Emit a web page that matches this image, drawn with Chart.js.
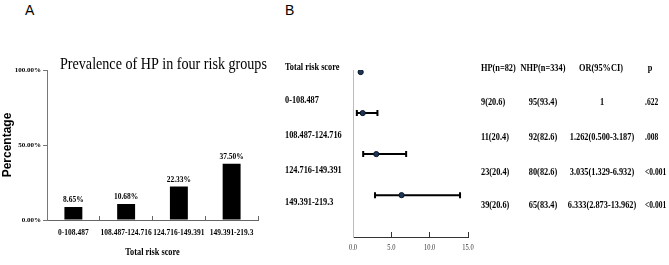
<!DOCTYPE html>
<html>
<head>
<meta charset="utf-8">
<script src="https://cdn.jsdelivr.net/npm/chart.js@4"></script>
<style>
  html, body { margin: 0; padding: 0; background: #fff; }
  #wrap { position: relative; width: 669px; height: 265px; overflow: hidden; }
  canvas { position: absolute; top: 0; }
  .panel { position: absolute; font-family: "Liberation Sans", Arial, sans-serif; font-size: 14px; line-height: 1; color: #000; }
</style>
</head>
<body>
<div id="wrap">
  <div class="panel" style="left:25px;top:3px">A</div>
  <div class="panel" style="left:285px;top:3px">B</div>
  <canvas id="barChart" width="270" height="265" style="left:0;width:270px;height:265px"></canvas>
  <canvas id="forestChart" width="399" height="265" style="left:270px;width:399px;height:265px"></canvas>
</div>
<script>
// ---- panel A data ----
const groups = ["0-108.487", "108.487-124.716", "124.716-149.391", "149.391-219.3"];
const prevalence = [8.65, 10.68, 22.33, 37.50];
const percentTicks = [0, 50, 100];

// ---- panel B data ----
const forestRows = ["Total risk score", "0-108.487", "108.487-124.716", "124.716-149.391", "149.391-219.3"];
const orPoint = [1, 1.262, 3.035, 6.333];
const ciLow = [null, 0.500, 1.329, 2.873];
const ciHigh = [null, 3.187, 6.932, 13.962];
const forestTicks = [0, 5, 10, 15];

const tableHead = ["HP(n=82)", "NHP(n=334)", "OR(95%CI)", "p"];
const hpCol = ["9(20.6)", "11(20.4)", "23(20.4)", "39(20.6)"];
const nhpCol = ["95(93.4)", "92(82.6)", "80(82.6)", "65(83.4)"];
const orCol = ["1", "1.262(0.500-3.187)", "3.035(1.329-6.932)", "6.333(2.873-13.962)"];
const pCol = [".622", ".008", "<0.001", "<0.001"];

const serif = "'Liberation Serif', 'Times New Roman', serif";
const squeeze = 0.83;

// squeezed serif text, like the narrow print of the figure
function say(ctx, text, x, y, font, align, color, sq) {
    ctx.save();
    ctx.font = font;
    ctx.fillStyle = color || "#000";
    ctx.textAlign = align || "left";
    ctx.textBaseline = "middle";
    ctx.translate(x, y);
    ctx.scale(sq || squeeze, 1);
    ctx.fillText(text, 0, 0);
    ctx.restore();
}

// =========================
// BAR CHART (A)
// =========================
const barText = {
    id: "barText",
    afterDraw: function (chart) {
        const ctx = chart.ctx;
        const meta = chart.getDatasetMeta(0);
        const xs = chart.scales.x;
        say(ctx, "Prevalence of HP in four risk groups", 60, 65, "17px " + serif);
        meta.data.forEach(function (bar, i) {
            say(ctx, prevalence[i].toFixed(2) + "%", bar.x, bar.y - 7, "bold 9px " + serif, "center");
            say(ctx, groups[i], xs.getPixelForValue(i), 233, "bold 9px " + serif, "center");
        });
        say(ctx, "Total risk score", (xs.left + xs.right) / 2, 252, "bold 10px " + serif, "center");
    }
};

new Chart(document.getElementById("barChart"), {
    type: "bar",
    data: {
        labels: groups,
        datasets: [{
            data: prevalence,
            backgroundColor: "#000",
            barPercentage: 0.68,
            categoryPercentage: 0.5
        }]
    },
    options: {
        responsive: false,
        animation: false,
        layout: { padding: { left: 0, right: 12, top: 70, bottom: 0 } },
        plugins: { legend: { display: false }, tooltip: { enabled: false } },
        scales: {
            x: {
                offset: true,
                // tick marks point up into the plot
                grid: { offset: true, drawOnChartArea: false, drawTicks: true, tickLength: -4, color: "#666" },
                border: { color: "#666", width: 1 },
                ticks: { color: "rgba(0,0,0,0)", font: { family: serif, size: 8 }, maxRotation: 0, autoSkip: false },
                afterFit: function (s) { s.height = 45; }
            },
            y: {
                min: 0,
                max: 100,
                afterBuildTicks: function (s) { s.ticks = percentTicks.map(function (v) { return { value: v }; }); },
                grid: { drawOnChartArea: false, drawTicks: true, tickLength: 4, color: "#777" },
                border: { color: "#777", width: 1 },
                ticks: {
                    color: "#000",
                    font: { family: serif, size: 7, weight: "bold" },
                    padding: 2,
                    callback: function (v) { return v.toFixed(2) + "%"; }
                },
                title: { display: true, text: "Percentage", color: "#000", font: { family: "'Liberation Sans', Arial, sans-serif", size: 12, weight: "bold" }, padding: 0 },
                afterFit: function (s) { s.width = 47; }
            }
        }
    },
    plugins: [barText]
});

// =========================
// FOREST PLOT (B)
// =========================
const errorBars = {
    id: "errorBars",
    beforeDatasetsDraw: function (chart) {
        const ctx = chart.ctx;
        const xs = chart.scales.x, ys = chart.scales.y;
        ctx.save();
        ctx.strokeStyle = "#000";
        ctx.lineWidth = 2;
        orPoint.forEach(function (v, i) {
            if (ciLow[i] === null) return;
            const y = ys.getPixelForValue(i);
            const x1 = xs.getPixelForValue(ciLow[i]);
            const x2 = xs.getPixelForValue(ciHigh[i]);
            ctx.beginPath();
            ctx.moveTo(x1, y); ctx.lineTo(x2, y);
            ctx.moveTo(x1, y - 3); ctx.lineTo(x1, y + 3);
            ctx.moveTo(x2, y - 3); ctx.lineTo(x2, y + 3);
            ctx.stroke();
        });
        ctx.restore();
    }
};

// row labels on the left, table on the right (canvas x = page x - 270)
const forestText = {
    id: "forestText",
    afterDraw: function (chart) {
        const ctx = chart.ctx;
        const xs = chart.scales.x;
        const f = "bold 10px " + serif;
        const rowLabelY = [67, 100, 135, 170, 202];
        forestRows.forEach(function (r, i) { say(ctx, r, 15, rowLabelY[i], f); });

        forestTicks.forEach(function (t) {
            say(ctx, t.toFixed(1), xs.getPixelForValue(t), 248, "9px " + serif, "center", "#333", 0.72);
        });

        const headY = 68;
        const tableY = [102, 137, 172, 205];
        say(ctx, tableHead[0], 211, headY, f);
        say(ctx, tableHead[1], 273, headY, f, "center");
        say(ctx, tableHead[2], 331, headY, f, "center");
        say(ctx, tableHead[3], 380, headY, f, "center");
        tableY.forEach(function (y, i) {
            say(ctx, hpCol[i], 211, y, f);
            say(ctx, nhpCol[i], 273, y, f, "center");
            say(ctx, orCol[i], 332, y, f, "center");
            say(ctx, pCol[i], 375, y, f, "left", "#000", 0.75);
        });
    }
};

new Chart(document.getElementById("forestChart"), {
    type: "scatter",
    data: {
        datasets: [{
            data: orPoint.map(function (v, i) { return { x: v, y: i }; }),
            pointRadius: 2.6,
            backgroundColor: "#1d3557",
            borderColor: "#0b1626",
            borderWidth: 1
        }]
    },
    options: {
        responsive: false,
        animation: false,
        layout: { padding: { left: 83, right: 201, top: 70, bottom: 0 } },
        plugins: { legend: { display: false }, tooltip: { enabled: false } },
        scales: {
            x: {
                type: "linear",
                min: 0,
                max: 15,
                afterBuildTicks: function (s) { s.ticks = forestTicks.map(function (v) { return { value: v }; }); },
                grid: { drawOnChartArea: false, drawTicks: true, tickLength: -5, color: "#333" },
                border: { color: "#333", width: 1 },
                ticks: { color: "rgba(0,0,0,0)", font: { family: serif, size: 8 } },
                afterFit: function (s) { s.height = 28; }
            },
            y: {
                type: "linear",
                reverse: true,
                min: -0.05,
                max: 4.02,
                grid: { display: false },
                border: { color: "#bbb", width: 1, dash: [1, 2] },
                ticks: { display: false },
                afterFit: function (s) { s.width = 0; }
            }
        }
    },
    plugins: [errorBars, forestText]
});
</script>
</body>
</html>
